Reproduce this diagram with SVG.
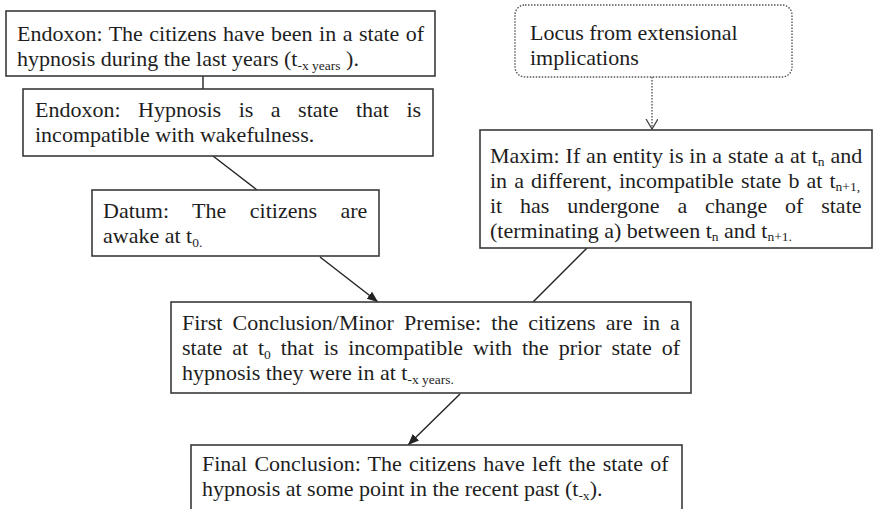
<svg xmlns="http://www.w3.org/2000/svg" width="873" height="509" viewBox="0 0 873 509">
  <style>
    .box { fill: #ffffff; stroke: #3a3a3a; stroke-width: 1.6; }
    .locus { fill: #ffffff; stroke: #555555; stroke-width: 1.4; stroke-dasharray: 1.5 1.5; }
    .t { font-family: "Liberation Serif", "Times New Roman", serif; font-size: 22px; fill: #1e1e1e; }
    .sub { font-size: 13.5px; }
    .link { stroke: #222222; stroke-width: 1.4; fill: none; }
    .dot { stroke: #555555; stroke-width: 1.4; fill: none; stroke-dasharray: 1.5 1.5; }
  </style>
  <defs>
    <marker id="head" markerUnits="userSpaceOnUse" markerWidth="12" markerHeight="10" refX="11" refY="4.5" orient="auto">
      <path d="M0,0 L11,4.5 L0,9 Z" fill="#222222"/>
    </marker>
    <marker id="vee" markerUnits="userSpaceOnUse" markerWidth="14" markerHeight="14" refX="10" refY="6" orient="auto">
      <path d="M0,0 L10,6 L0,12" fill="none" stroke="#444444" stroke-width="1.3"/>
    </marker>
  </defs>
  <rect width="873" height="509" fill="#ffffff"/>

  <!-- connectors -->
  <g id="connectors">
    <line class="link" x1="203" y1="76" x2="203" y2="89"/>
    <line class="link" x1="213" y1="156" x2="257" y2="190"/>
    <line class="dot" x1="652" y1="77" x2="652" y2="129" marker-end="url(#vee)"/>
    <line class="link" x1="320" y1="257" x2="378" y2="302" marker-end="url(#head)"/>
    <line class="link" x1="587" y1="248" x2="533" y2="302"/>
    <line class="link" x1="460" y1="394" x2="408" y2="445" marker-end="url(#head)"/>
  </g>

  <g id="endoxon-years">
    <rect class="box" x="6" y="11" width="429" height="65"/>
    <text class="t" x="17" y="41" word-spacing="1">Endoxon: The citizens have been in a state of</text>
    <text class="t" x="17" y="66">hypnosis during the last years (t<tspan class="sub" dy="3.5">-x years</tspan><tspan dy="-3.5"> ).</tspan></text>
  </g>

  <g id="endoxon-hypnosis">
    <rect class="box" x="23" y="89" width="410" height="67"/>
    <text class="t" x="35" y="117" word-spacing="12">Endoxon: Hypnosis is a state that is</text>
    <text class="t" x="35" y="142">incompatible with wakefulness.</text>
  </g>

  <g id="datum">
    <rect class="box" x="92" y="190" width="287" height="66"/>
    <text class="t" x="103" y="218" word-spacing="18">Datum: The citizens are</text>
    <text class="t" x="103" y="243">awake at t<tspan class="sub" dy="3.5">0.</tspan></text>
  </g>

  <g id="locus">
    <rect class="locus" x="515" y="5" width="277" height="72" rx="10" ry="10"/>
    <text class="t" x="530" y="40">Locus from extensional</text>
    <text class="t" x="530" y="65">implications</text>
  </g>

  <g id="maxim">
    <rect class="box" x="480" y="130" width="392" height="118"/>
    <text class="t" x="490" y="163" word-spacing="0.4">Maxim: If an entity is in a state a at t<tspan class="sub" dy="3">n</tspan><tspan dy="-3"> and</tspan></text>
    <text class="t" x="490" y="188" word-spacing="1.6">in a different, incompatible state b at t<tspan class="sub" dy="3">n+1,</tspan></text>
    <text class="t" x="490" y="213" word-spacing="12.3">it has undergone a change of state</text>
    <text class="t" x="490" y="238">(terminating a) between t<tspan class="sub" dy="3">n</tspan><tspan dy="-3"> and t</tspan><tspan class="sub" dy="3">n+1.</tspan></text>
  </g>

  <g id="first-conclusion">
    <rect class="box" x="171" y="302" width="520" height="91"/>
    <text class="t" x="182" y="330" word-spacing="4.7">First Conclusion/Minor Premise: the citizens are in a</text>
    <text class="t" x="182" y="355" word-spacing="4.4">state at t<tspan class="sub" dy="3.5">0</tspan><tspan dy="-3.5"> that is incompatible with the prior state of</tspan></text>
    <text class="t" x="182" y="380">hypnosis they were in at t<tspan class="sub" dy="3.5">-x years.</tspan></text>
  </g>

  <g id="final-conclusion">
    <rect class="box" x="191" y="445" width="491" height="80"/>
    <text class="t" x="202" y="471" word-spacing="1.7">Final Conclusion: The citizens have left the state of</text>
    <text class="t" x="202" y="496">hypnosis at some point in the recent past (t<tspan class="sub" dy="3.5">-x</tspan><tspan dy="-3.5">).</tspan></text>
  </g>
</svg>
